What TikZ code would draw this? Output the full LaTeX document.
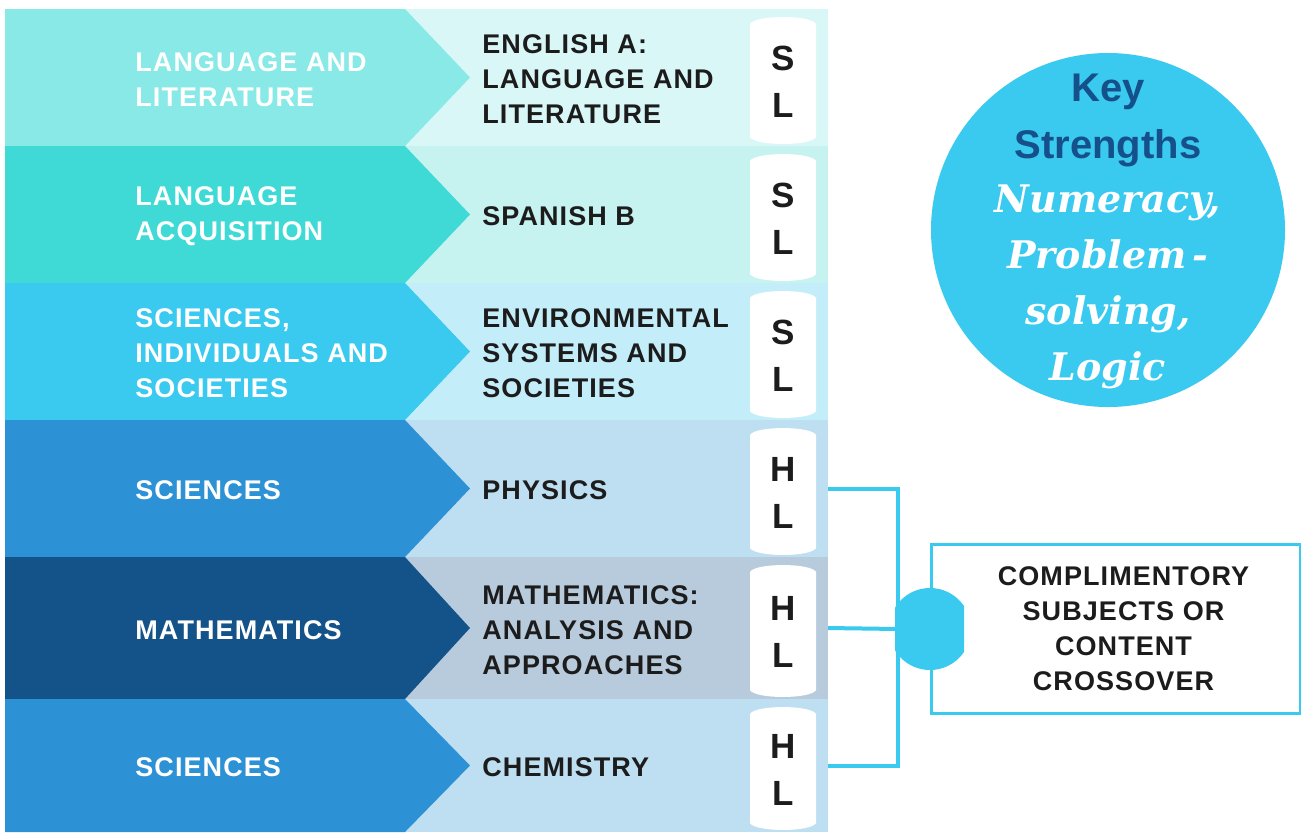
\documentclass[tikz,border=0pt]{standalone}
\usepackage{fontspec}
\setmainfont{Liberation Sans}
\newfontfamily\capsfont{Liberation Sans}[LetterSpace=4]
\newfontfamily\slabfont{DejaVu Serif}

\definecolor{lit}{HTML}{88E9E7}
\definecolor{litl}{HTML}{DAF7F7}
\definecolor{acq}{HTML}{3FDAD6}
\definecolor{acql}{HTML}{C6F2F0}
\definecolor{ind}{HTML}{3AC9EF}
\definecolor{indl}{HTML}{C4EDFA}
\definecolor{sci}{HTML}{2D91D6}
\definecolor{scil}{HTML}{BEDEF1}
\definecolor{mat}{HTML}{145389}
\definecolor{matl}{HTML}{B8CBDC}
\definecolor{ink}{HTML}{1C1C1C}
\definecolor{keyblue}{HTML}{15508A}
\definecolor{skyblue}{HTML}{3AC9EF}

\tikzset{
  grouptext/.style={anchor=west, inner sep=0pt, align=left, text=white,
    font=\capsfont\bfseries\fontsize{13.5}{17.5}\selectfont},
  subjtext/.style={grouptext, text=ink},
  leveltext/.style={inner sep=0pt, align=center, text=ink,
    font=\bfseries\fontsize{17.5}{23.5}\selectfont},
  link/.style={draw=skyblue, line width=2pt},
}

\begin{document}
\begin{tikzpicture}[x=0.5pt, y=-0.5pt]
  \useasboundingbox (0,0) rectangle (1301,832);
  \fill[white] (0,0) rectangle (1301,832);

  \foreach \ya/\yb/\dark/\light/\grp/\sub/\lvl [count=\i] in {
      9/146/lit/litl/{LANGUAGE AND\\LITERATURE}/{ENGLISH A:\\LANGUAGE AND\\LITERATURE}/{S\\L},
      146/283/acq/acql/{LANGUAGE\\ACQUISITION}/{SPANISH B}/{S\\L},
      283/420/ind/indl/{SCIENCES,\\INDIVIDUALS AND\\SOCIETIES}/{ENVIRONMENTAL\\SYSTEMS AND\\SOCIETIES}/{S\\L},
      420/557/sci/scil/{SCIENCES}/{PHYSICS}/{H\\L},
      557/699/mat/matl/{MATHEMATICS}/{MATHEMATICS:\\ANALYSIS AND\\APPROACHES}/{H\\L},
      699/832/sci/scil/{SCIENCES}/{CHEMISTRY}/{H\\L}} {
    \pgfmathsetmacro\ym{(\ya+\yb)/2}
    \fill[\light] (405,\ya) rectangle (828,\yb);
    \fill[\dark] (5,\ya) -- (405,\ya) -- (470,\ym) -- (405,\yb) -- (5,\yb) -- cycle;
    \fill[white] (750,\ya+15) .. controls (755,\ya+5.7) and (811,\ya+5.7) .. (816,\ya+15)
      -- (816,\yb-9) .. controls (811,\yb+0.3) and (755,\yb+0.3) .. (750,\yb-9) -- cycle;
    \node[grouptext] (grp\i) at (135,\ym+2) {\grp};
    \node[subjtext] (subj\i) at (482,\ym+2) {\sub};
    \node[leveltext] (lvl\i) at (783,\ym+4) {\lvl};
    \coordinate (band\i) at (828,\ym);
  }

  \node[circle, fill=skyblue, minimum size=177pt, inner sep=0pt] (keys) at (1108,230) {};
  \node[align=center, inner sep=0pt, text=keyblue,
    font=\bfseries\fontsize{20}{28.5}\selectfont] (keyhead) at (1108,120) {Key\\Strengths};
  \node[align=center, inner sep=0pt, text=white,
    font=\slabfont\bfseries\itshape\fontsize{19}{28}\selectfont] (keylist) at (1108,287)
    {Numeracy,\\Problem\,-\\solving,\\Logic};

  \coordinate (spine) at (898,629);
  \draw[link] (band4) -| (spine);
  \draw[link] (band6) -| (spine);
  \draw[link] (band5) -- (spine);

  \node[draw=skyblue, line width=1.5pt, minimum width=184.5pt, minimum height=84.5pt,
    align=center, text=ink, font=\capsfont\bfseries\fontsize{13.5}{17.5}\selectfont] (cross) at (1115.5,628.5)
    {\hspace*{8pt}COMPLIMENTORY\\\hspace*{8pt}SUBJECTS OR\\\hspace*{8pt}CONTENT\\\hspace*{8pt}CROSSOVER};

  \begin{scope}
    \clip (895,560) rectangle (964,700);
    \node[circle, fill=skyblue, minimum size=41pt, inner sep=0pt] (hub) at (930,629) {};
  \end{scope}
\end{tikzpicture}
\end{document}
